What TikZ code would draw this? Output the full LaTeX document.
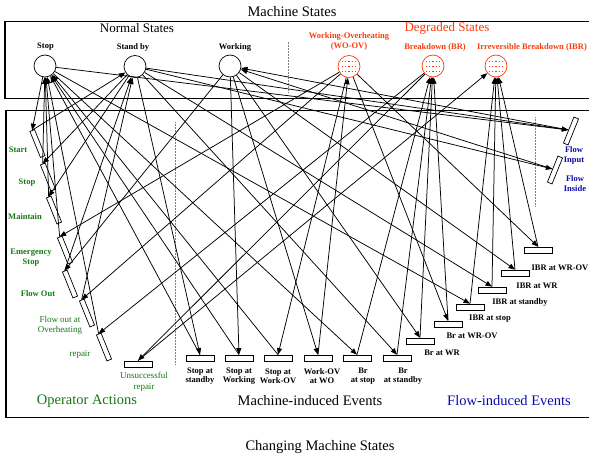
\documentclass[tikz,border=0pt]{standalone}
\usepackage{fontspec}
\setmainfont{Liberation Serif}
\usetikzlibrary{arrows.meta,calc}
\usepackage{xcolor}
\definecolor{opgreen}{RGB}{20,120,20}
\definecolor{degred}{RGB}{250,60,10}
\definecolor{flowblue}{RGB}{10,10,170}

\begin{document}
\begin{tikzpicture}[x=1pt, y=-1pt,
      state/.style={draw, circle, fill=white, minimum size=22pt, inner sep=0pt, line width=0.7pt},
      dstate/.style={state, draw=degred},
      opbar/.style={draw, fill=white, minimum width=5pt, minimum height=28pt,
                    inner sep=0pt, line width=0.7pt, rotate=22},
      flbar/.style={draw, fill=white, minimum width=5pt, minimum height=28pt,
                    inner sep=0pt, line width=0.7pt, rotate=-22},
      evbar/.style={draw, fill=white, minimum width=28pt, minimum height=6pt,
                    inner sep=0pt, line width=0.7pt},
      lbl/.style={font=\fontsize{8.5}{9.5}\selectfont\bfseries, align=center, inner sep=0pt},
      oplbl/.style={lbl, text=opgreen},
      dlbl/.style={lbl, text=degred},
      fllbl/.style={lbl, text=flowblue},
      head/.style={font=\fontsize{14.5}{16}\selectfont, inner sep=0pt},
      arr/.style={-{Triangle[length=6.5pt,width=5pt]}, line width=0.75pt},
      sep/.style={gray, densely dotted, line width=0.5pt},
    ]
    \useasboundingbox (0,0) rectangle (589,460);

    % ---------- frames ----------
    \node[head] (title) at (292,12) {Machine States};
    \draw[line width=1.1pt] (5,21.5) rectangle (600,98.5);
    \draw[line width=1.1pt] (6,110.5) rectangle (600,417.5);
    \node[head] (caption) at (320,447) {Changing Machine States};
    \draw[sep] (288,42) -- (288,93);
    \draw[sep] (175,122) -- (175,365);
    \draw[sep] (535,117) -- (535,207);

    % ---------- states ----------
    \node[head, font=\fontsize{13}{15}\selectfont] (normal) at (137,28) {Normal States};
    \node[head, font=\fontsize{13}{15}\selectfont, text=degred] (degraded) at (447,28) {Degraded States};
    \node[state] (stopS) at (45,66) {};
    \node[state] (standbyS) at (135,66.5) {};
    \node[state] (workS) at (230,66) {};
    \node[dstate] (woovS) at (349,66.5) {};
    \node[dstate] (brS) at (433,66) {};
    \node[dstate] (ibrS) at (496,66) {};
    \node[lbl] at (45.5,47) {Stop};
    \node[lbl] at (133,47) {Stand by};
    \node[lbl] at (235,47) {Working};
    \node[dlbl] at (349,41.5) {Working-Overheating\\(WO-OV)};
    \node[dlbl] at (435,47) {Breakdown (BR)};
    \node[dlbl] at (532,47) {Irreversible Breakdown (IBR)};
    \foreach \c in {woovS,brS,ibrS}
      \foreach \dy in {-5,0,5}
        \draw[degred, line width=0.3pt, dash pattern=on 1.2pt off 2pt]
          ($(\c)+(-7,\dy)$) -- ($(\c)+(7,\dy)$);

    % ---------- operator actions ----------
    \node[opbar] (startB) at (37.5,143.5) {};
    \node[opbar] (stopB) at (48,177) {};
    \node[opbar] (maintB) at (54,210) {};
    \node[opbar] (estopB) at (65,250) {};
    \node[opbar] (flowoutB) at (70,284) {};
    \node[opbar] (flowohB) at (87,313) {};
    \node[opbar] (repairB) at (104,347) {};
    \node[evbar] (unrepB) at (138,364) {};
    \node[oplbl] at (18,150) {Start};
    \node[oplbl] at (27,183) {Stop};
    \node[oplbl] at (25,217) {Maintain};
    \node[oplbl] at (31,257.5) {Emergency\\Stop};
    \node[oplbl] at (38,294) {Flow Out};
    \node[oplbl, font=\fontsize{9}{10.5}\selectfont] at (60,325.5) {Flow out at\\Overheating};
    \node[oplbl, font=\fontsize{9}{10.5}\selectfont] at (80,354) {repair};
    \node[oplbl, font=\fontsize{9}{10.5}\selectfont] at (144,382) {Unsuccessful\\repair};

    % ---------- machine-induced events ----------
    \node[evbar] (sstbB) at (200,358) {};
    \node[evbar] (swrB) at (239,358) {};
    \node[evbar] (swovB) at (278,358) {};
    \node[evbar] (woB) at (318,358) {};
    \node[evbar] (brstB) at (357,358) {};
    \node[evbar] (brsbB) at (397,358) {};
    \node[evbar] (brwrB) at (420,341) {};
    \node[evbar] (brwovB) at (448,324) {};
    \node[evbar] (ibrstB) at (470,307) {};
    \node[evbar] (ibrsbB) at (492,290) {};
    \node[evbar] (ibrwrB) at (515,273) {};
    \node[evbar] (ibrwovB) at (538,250) {};
    \node[lbl] at (200,376) {Stop at\\standby};
    \node[lbl] at (239,376) {Stop at\\Working};
    \node[lbl] at (278,376) {Stop at\\Work-OV};
    \node[lbl] at (322,376) {Work-OV\\at WO};
    \node[lbl] at (363,376) {Br\\at stop};
    \node[lbl] at (403,376) {Br\\at standby};
    \node[lbl] at (442,353) {Br at WR};
    \node[lbl] at (472,336) {Br at WR-OV};
    \node[lbl] at (490,319) {IBR at stop};
    \node[lbl] at (520,302) {IBR at standby};
    \node[lbl] at (537,286) {IBR at WR};
    \node[lbl] at (560,268) {IBR at WR-OV};

    % ---------- flow-induced events ----------
    \node[flbar] (finB) at (571,131) {};
    \node[flbar] (fisB) at (555,170) {};
    \node[fllbl] at (574,155.5) {Flow\\Input};
    \node[fllbl] at (575,183.5) {Flow\\Inside};

    \node[head, text=opgreen] at (87,401) {Operator Actions};
    \node[head] at (310,401) {Machine-induced Events};
    \node[head, text=flowblue] at (509,401) {Flow-induced Events};

    % ---------- state -> event ----------
    \draw[arr] (stopS) -- (startB.north);
    \draw[arr] (standbyS) -- (stopB.north);
    \draw[arr] (standbyS) -- (maintB.north);
    \draw[arr] (woovS) -- (estopB.north);
    \draw[arr] (workS) -- (flowoutB.north);
    \draw[arr] (woovS) -- (flowohB.north);
    \draw[arr] (brS) -- (repairB.north);
    \draw[arr] (brS) -- (unrepB.north);
    \draw[arr] (standbyS) -- (sstbB.north);
    \draw[arr] (workS) -- (swrB.north);
    \draw[arr] (woovS) -- (swovB.north);
    \draw[arr] (workS) -- (woB.north);
    \draw[arr] (stopS) -- (brstB.north);
    \draw[arr] (standbyS) -- (brsbB.north);
    \draw[arr] (workS) -- (brwrB.north);
    \draw[arr] (woovS) -- (brwovB.north);
    \draw[arr] (stopS) -- (ibrstB.north);
    \draw[arr] (standbyS) -- (ibrsbB.north);
    \draw[arr] (workS) -- (ibrwrB.north);
    \draw[arr] (woovS) -- (ibrwovB.north);
    \draw[arr] (stopS) -- (finB.west);
    \draw[arr] (standbyS) -- (finB.west);
    \draw[arr] (standbyS) -- (fisB.west);

    % ---------- event -> state ----------
    \draw[arr] (startB.north) -- (standbyS);
    \draw[arr] (stopB.north) -- (stopS);
    \draw[arr] (maintB.north) -- (stopS);
    \draw[arr] (estopB.north) -- (stopS);
    \draw[arr] (flowoutB.north) -- (standbyS);
    \draw[arr] (flowohB.north) -- (standbyS);
    \draw[arr] (repairB.north) -- (stopS);
    \draw[arr] (unrepB.north) -- (ibrS);
    \draw[arr] (sstbB.north) -- (stopS);
    \draw[arr] (swrB.north) -- (stopS);
    \draw[arr] (swovB.north) -- (stopS);
    \draw[arr] (woB.north) -- (woovS);
    \draw[arr] (brstB.north) -- (brS);
    \draw[arr] (brsbB.north) -- (brS);
    \draw[arr] (brwrB.north) -- (brS);
    \draw[arr] (brwovB.north) -- (brS);
    \draw[arr] (ibrstB.north) -- (ibrS);
    \draw[arr] (ibrsbB.north) -- (ibrS);
    \draw[arr] (ibrwrB.north) -- (ibrS);
    \draw[arr] (ibrwovB.north) -- (ibrS);
    \draw[arr] (finB.west) -- (workS);
    \draw[arr] (fisB.west) -- (workS);
  \end{tikzpicture}
\end{document}
